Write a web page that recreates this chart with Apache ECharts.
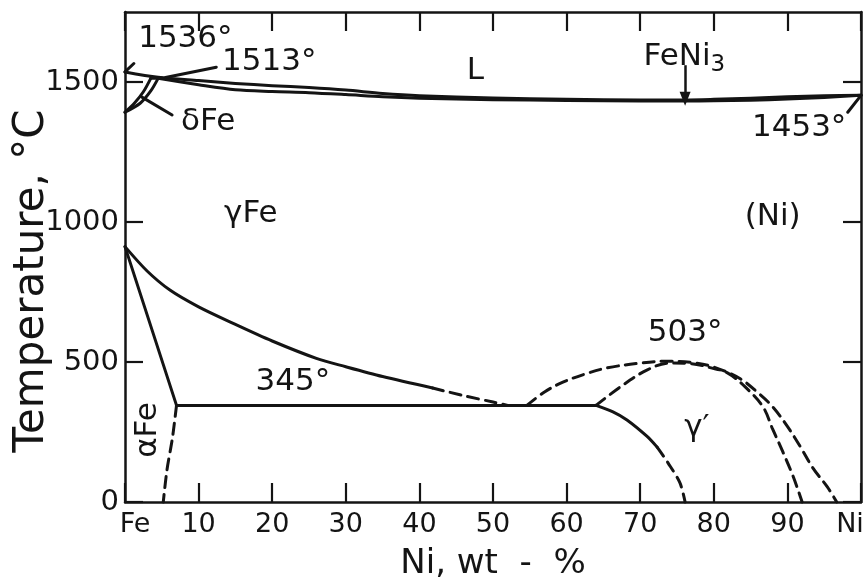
<!DOCTYPE html>
<html>
<head>
<meta charset="utf-8">
<script src="https://cdn.jsdelivr.net/npm/echarts@6/dist/echarts.min.js"></script>
<style>
  html, body { margin: 0; padding: 0; background: #ffffff; }
  #chart { width: 868px; height: 580px; }
</style>
</head>
<body>
<div id="chart"></div>
<script>
// Fe–Ni equilibrium phase diagram (temperature in °C vs. wt-% Ni)

const INK = '#141414';
const FONT = 'DejaVu Sans';

// axis ticks
const xTicks = [0, 10, 20, 30, 40, 50, 60, 70, 80, 90, 100];
const xTickLabels = ['Fe', '10', '20', '30', '40', '50', '60', '70', '80', '90', 'Ni'];
const yTicks = [0, 500, 1000, 1500];

// high-temperature region: liquidus, solidus, delta-iron loop
const liquidus = [[0,1536],[4.5,1517],[10,1505],[15,1495],[20,1487],[25,1480],[30,1471],[35,1459],[40,1451],[50,1443],[60,1438],[70,1436],[76,1436],[80,1438],[85,1442],[90,1447],[95,1451],[100,1453]];
const solidus = [[4.5,1513],[10,1490],[15,1472],[20,1466],[25,1462],[30,1455],[35,1447],[40,1442],[50,1437],[60,1434],[70,1432],[76,1432],[80,1433],[85,1435],[90,1439],[95,1445],[100,1453]];
const deltaBoundary = [[0,1392],[1.3,1425],[2.5,1465],[3.5,1513]];
const gammaDeltaBoundary = [[0,1392],[2.1,1425],[3.5,1468],[4.5,1513]];
const peritectic = [[3.5,1513],[5.2,1513]];

// low-temperature region: alpha / gamma boundaries and eutectoid at 345°
const gammaAlphaSolid = [[0,912],[3,825],[6.1,757],[10,697],[14.7,638],[20,575],[26,513],[30,483],[35,448],[41.8,407]];
const gammaAlphaDashed = [[41.8,407],[46,380],[50,357],[52,345]];
const alphaBoundary = [[0,912],[7,345]];
const alphaDashed = [[7,345],[6.7,280],[6.4,221],[5.7,114],[5.2,0]];
const eutectoid = [[7,345],[64,345]];

// ordering region around FeNi3 (gamma prime), max 503°
const gammaPrimeSolid = [[64,345],[66.3,322],[68.2,293],[70.9,235],[72.3,196]];
const gammaPrimeDashed = [[72.3,196],[73.8,139],[75.4,68],[76.1,0]];
const orderOuter = [[54.6,345],[57,393],[59.5,428],[62.5,457],[65.5,479],[70,496],[73.6,503],[77,498],[80,482],[83.6,440],[86,390],[88,340],[90,270],[91.7,200],[93.5,120],[95.4,55],[96.7,0]];
const orderInner = [[64,345],[67.3,411],[70.9,471],[74,496],[77,494],[79.5,480],[81.8,462],[84.3,410],[86.7,339],[88,260],[89.4,178],[90.8,90],[92,0]];

// leader lines from labels to their points
const leader1536 = [[0,1536],[1.2,1566]];
const leader1513 = [[5.5,1516],[12.4,1553]];
const leaderDelta = [[6.4,1382],[2.3,1446]];
const leader1453 = [[98.2,1392],[100,1452]];
const arrowFeNi3 = [[76.1,1560],[76.1,1440]];

// phase-field and temperature labels (text, Ni wt-%, °C, rotation)
const labelTexts = ['1536°', '1513°', 'δFe', 'L', 'FeNi₃', '1453°', 'γFe', '(Ni)', '345°', '503°', 'γ′', 'αFe'];
const labelNi =    [8.2,     19.6,    11.3,  47.6, 76.0,    91.6,    17.1,  88.0,   22.8,   76.1,   77.7,  3.1];
const labelTemp =  [1652,    1570,    1357,  1540, 1590,    1335,    1028,  1018,   430,    604,    264,   257];
const labelRotate = [0, 0, 0, 0, 0, 0, 0, 0, 0, 0, 0, 90];

function curve(data, dashed, smooth) {
  return {
    type: 'line',
    data: data,
    smooth: smooth === undefined ? 0.35 : smooth,
    showSymbol: false,
    silent: true,
    clip: false,
    lineStyle: {
      color: INK,
      width: 3,
      type: dashed ? [11, 7] : 'solid',
      cap: 'round',
      join: 'round'
    },
    z: 3
  };
}

const labelData = labelTexts.map((t, i) => ({
  value: [labelNi[i], labelTemp[i], t],
  label: { rotate: labelRotate[i] }
}));

const series = [
  curve(liquidus, false, 0.3),
  curve(solidus, false, 0.3),
  curve(deltaBoundary, false, 0.3),
  curve(gammaDeltaBoundary, false, 0.3),
  curve(peritectic, false, 0),
  curve(gammaAlphaSolid, false, 0.3),
  curve(gammaAlphaDashed, true, 0.3),
  curve(alphaBoundary, false, 0),
  curve(alphaDashed, true, 0.3),
  curve(eutectoid, false, 0),
  curve(gammaPrimeSolid, false, 0.3),
  curve(gammaPrimeDashed, true, 0.3),
  curve(orderOuter, true, 0.35),
  curve(orderInner, true, 0.35),
  curve(leader1536, false, 0),
  curve(leader1513, false, 0),
  curve(leaderDelta, false, 0),
  curve(leader1453, false, 0),
  {
    type: 'line',
    data: [],
    silent: true,
    markLine: {
      silent: true,
      symbol: ['none', 'triangle'],
      symbolSize: [11, 14],
      symbolRotate: 180,
      label: { show: false },
      lineStyle: { color: INK, width: 2.5, type: 'solid' },
      data: [[{ coord: arrowFeNi3[0] }, { coord: arrowFeNi3[1] }]]
    }
  },
  {
    type: 'scatter',
    data: labelData,
    symbolSize: 0,
    silent: true,
    itemStyle: { color: INK, opacity: 1 },
    label: {
      show: true,
      position: 'inside',
      // subscript digit drawn as a smaller, lowered rich-text token
      formatter: p => p.value[2].replace('₃', '{s|3}'),
      fontFamily: FONT,
      fontSize: 31,
      lineHeight: 40,
      color: INK,
      opacity: 1,
      textBorderWidth: 0,
      textBorderColor: 'transparent',
      rich: {
        s: { fontFamily: FONT, fontSize: 23, lineHeight: 23, verticalAlign: 'bottom', color: INK }
      }
    },
    z: 5
  }
];

const axisLineStyle = { color: INK, width: 2.5 };
const tickStyle = { color: INK, width: 2.2 };

const option = {
  backgroundColor: '#ffffff',
  animation: false,
  grid: { left: 125, right: 7, top: 12, bottom: 78, containLabel: false, outerBoundsMode: 'none' },
  xAxis: [
    {
      type: 'value',
      position: 'bottom',
      min: 0,
      max: 100,
      interval: 10,
      axisLine: { show: true, onZero: false, lineStyle: axisLineStyle },
      axisTick: { show: true, inside: true, length: 19, lineStyle: tickStyle },
      splitLine: { show: false },
      axisLabel: {
        margin: 9,
        fontFamily: FONT,
        fontSize: 27,
        color: INK,
        formatter: v => {
          const i = xTicks.indexOf(v);
          const s = i >= 0 ? xTickLabels[i] : String(v);
          if (v === 0) return '{fe|' + s + '}';
          if (v === 100) return '{ni|' + s + '}';
          return s;
        },
        rich: {
          fe: { padding: [0, 0, 0, 20], fontFamily: FONT, fontSize: 27, color: INK },
          ni: { padding: [0, 22, 0, 0], fontFamily: FONT, fontSize: 27, color: INK }
        }
      },
      name: 'Ni, wt  -  %',
      nameLocation: 'middle',
      nameGap: 45,
      nameMoveOverlap: false,
      nameTextStyle: { fontFamily: FONT, fontSize: 34, color: INK }
    },
    {
      type: 'value',
      position: 'top',
      min: 0,
      max: 100,
      interval: 10,
      axisLine: { show: true, onZero: false, lineStyle: axisLineStyle },
      axisTick: { show: true, inside: true, length: 19, lineStyle: tickStyle },
      axisLabel: { show: false },
      splitLine: { show: false }
    }
  ],
  yAxis: [
    {
      type: 'value',
      position: 'left',
      min: 0,
      max: 1750,
      axisLine: { show: true, onZero: false, lineStyle: axisLineStyle },
      axisTick: { show: true, inside: true, length: 18, lineStyle: tickStyle, customValues: yTicks },
      splitLine: { show: false },
      axisLabel: {
        customValues: yTicks,
        formatter: v => String(v),
        margin: 6,
        fontFamily: FONT,
        fontSize: 29,
        color: INK
      },
      name: 'Temperature, °C',
      nameLocation: 'middle',
      nameRotate: 90,
      nameGap: 72,
      nameMoveOverlap: false,
      nameTextStyle: { fontFamily: FONT, fontSize: 42, color: INK, padding: [0, 48, 0, 0] }
    },
    {
      type: 'value',
      position: 'right',
      min: 0,
      max: 1750,
      axisLine: { show: true, onZero: false, lineStyle: axisLineStyle },
      axisTick: { show: true, inside: true, length: 18, lineStyle: tickStyle, customValues: yTicks },
      axisLabel: { show: false },
      splitLine: { show: false }
    }
  ],
  series: series
};

const chart = echarts.init(document.getElementById('chart'), null, { renderer: 'canvas' });
chart.setOption(option);
</script>
</body>
</html>
